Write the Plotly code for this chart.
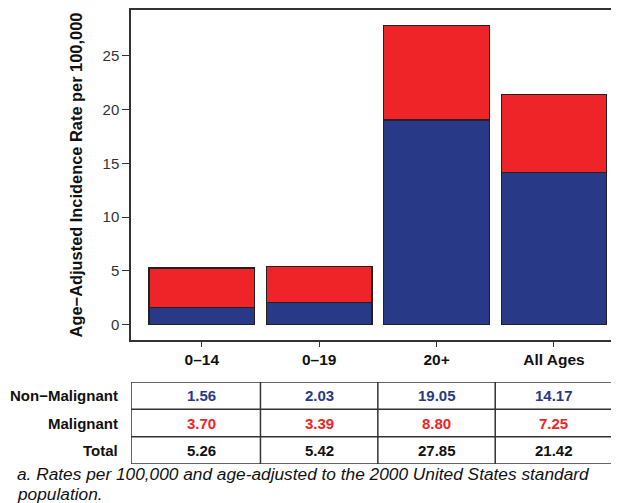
import plotly.graph_objects as go

categories = ["0–14", "0–19", "20+", "All Ages"]
non_malignant = [1.56, 2.03, 19.05, 14.17]
malignant = [3.70, 3.39, 8.80, 7.25]
total = [5.26, 5.42, 27.85, 21.42]
row_labels = ["Non−Malignant", "Malignant", "Total"]
row_values = [non_malignant, malignant, total]
y_ticks = [0, 5, 10, 15, 20, 25]
footnote_lines = ["a. Rates per 100,000 and age-adjusted to the 2000 United States standard",
                  "population."]

BLUE = "#283A87"
RED = "#EE2428"
FONT = "Liberation Sans, Arial, sans-serif"
row_colors = [BLUE, RED, "#111111"]

xi = list(range(len(categories)))
fig = go.Figure()
fig.add_trace(go.Bar(x=xi, y=non_malignant, marker=dict(color=BLUE, line=dict(color="#222222", width=1.2)),
                     width=0.9, name="Non-Malignant", showlegend=False))
fig.add_trace(go.Bar(x=xi, y=malignant, marker=dict(color=RED, line=dict(color="#222222", width=1.2)),
                     width=0.9, name="Malignant", showlegend=False))

xr = [-0.603, 3.58]
fig.update_layout(
    barmode="stack",
    width=619, height=503,
    margin=dict(l=123, r=5, t=2, b=47, autoexpand=False),
    plot_bgcolor="white", paper_bgcolor="white",
    font=dict(family=FONT, color="#222222"),
    xaxis=dict(domain=[0, 1], range=xr, tickvals=xi, ticktext=categories,
               tickfont=dict(size=15.5, family=FONT, color="#111111", weight="bold"),
               ticks="outside", ticklen=5, tickcolor="#333333",
               showline=True, linecolor="#333333", linewidth=1.5, mirror=True,
               showgrid=False, zeroline=False, anchor="y", automargin=False),
    yaxis=dict(domain=[0.273, 1], range=[-1.44, 29.28], tickvals=y_ticks,
               tickfont=dict(size=15, family=FONT, color="#333333"),
               ticks="outside", ticklen=7, tickcolor="#333333",
               showline=True, linecolor="#333333", linewidth=1.5, mirror=True,
               showgrid=False, zeroline=False, anchor="x", automargin=False,
               title=dict(text="<b>Age−Adjusted Incidence Rate per 100,000</b>",
                          font=dict(size=16.4, family=FONT, color="#111111"), standoff=16)),
    xaxis2=dict(domain=[0, 1], range=xr, visible=False, anchor="y2"),
    yaxis2=dict(domain=[0, 0.1806], range=[0, 3], visible=False, anchor="x2"),
)

# table grid
lc = dict(color="#333333", width=1.5)
fig.add_shape(type="rect", xref="x2", yref="y2", x0=xr[0], x1=xr[1], y0=0, y1=3, line=lc)
for k in range(1, len(categories)):
    fig.add_shape(type="line", xref="x2", yref="y2", x0=k - 0.5, x1=k - 0.5, y0=0, y1=3, line=lc)
for r in range(1, len(row_labels)):
    fig.add_shape(type="line", xref="x2", yref="y2", x0=xr[0], x1=xr[1], y0=r, y1=r, line=lc)

for r, (lab, vals, col) in enumerate(zip(row_labels, row_values, row_colors)):
    yc = len(row_labels) - r - 0.5
    fig.add_annotation(xref="paper", yref="y2", x=0, y=yc, text="<b>%s</b>" % lab,
                       xanchor="right", xshift=-11, showarrow=False,
                       font=dict(size=15, family=FONT, color="#111111"))
    for c, v in enumerate(vals):
        fig.add_annotation(xref="x2", yref="y2", x=c, y=yc, text="<b>%.2f</b>" % v,
                           showarrow=False, font=dict(size=15, family=FONT, color=col))

for i, line in enumerate(footnote_lines):
    fig.add_annotation(xref="paper", yref="paper", x=-116 / 491, y=-(10 + 20 * i) / 454,
                       yanchor="middle", xanchor="left", align="left", showarrow=False,
                       text="<i>%s</i>" % line,
                       font=dict(size=17.3, family=FONT, color="#111111"))

fig.write_html("out.html")
